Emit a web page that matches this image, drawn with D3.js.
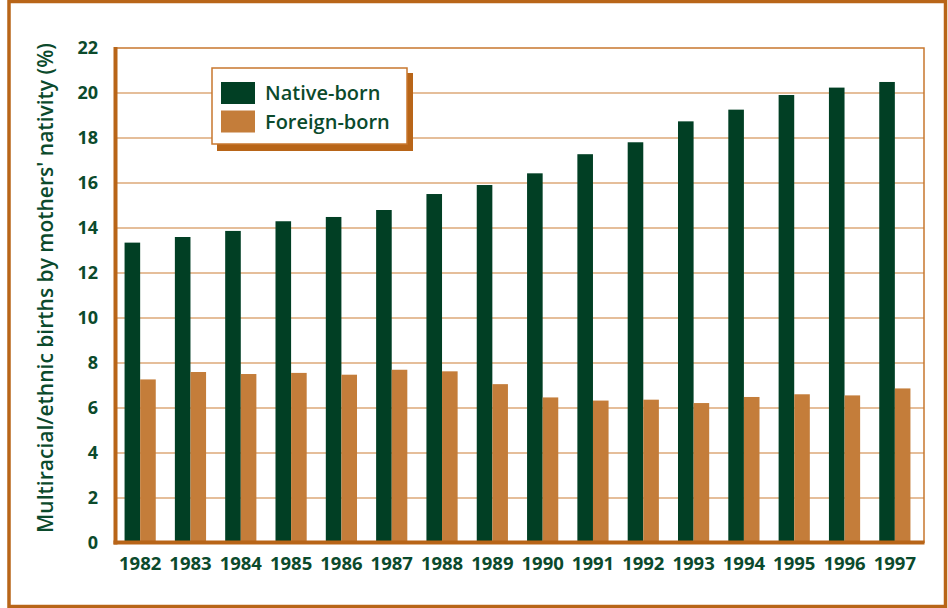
<!DOCTYPE html>
<meta charset="utf-8">
<script src="https://d3js.org/d3.v7.min.js"></script>
<style>
  body { margin: 0; background: #fff; }
  text { font-family: "Open Sans", sans-serif; font-weight: 600; fill: #0b4a2c; }
</style>
<div id="chart"></div>
<script>

// data
var years = ["1982","1983","1984","1985","1986","1987","1988","1989",
             "1990","1991","1992","1993","1994","1995","1996","1997"];
var nativeBorn  = [13.35, 13.6, 13.87, 14.3, 14.49, 14.8, 15.51, 15.91,
                   16.43, 17.28, 17.81, 18.74, 19.26, 19.91, 20.24, 20.49];
var foreignBorn = [7.27, 7.6, 7.51, 7.56, 7.48, 7.7, 7.63, 7.06,
                   6.47, 6.33, 6.37, 6.22, 6.49, 6.61, 6.56, 6.87];
var seriesNames = ["Native-born", "Foreign-born"];
var yTicks = [0, 2, 4, 6, 8, 10, 12, 14, 16, 18, 20, 22];

var colors = {"Native-born": "#013f24", "Foreign-born": "#c47d3a"};
var frameColor = "#b86518";
var gridColor = "#dca878";

var width = 948, height = 608;

var svg = d3.select("#chart")
  .append("svg")
    .attr("width", width)
    .attr("height", height);

// outer frame
svg.append("rect")
  .attr("x", 9)
  .attr("y", 1.5)
  .attr("width", 936.5)
  .attr("height", 605)
  .attr("fill", "none")
  .attr("stroke", frameColor)
  .attr("stroke-width", 3.5);

var plotLeft = 116, plotRight = 924, plotTop = 48, plotBottom = 543;

var x = d3.scaleBand()
  .domain(years)
  .range([115, 920])
  .paddingInner(0.38)
  .paddingOuter(0.19);

var x1 = d3.scaleBand()
  .domain(seriesNames)
  .range([0, x.bandwidth()]);

var y = d3.scaleLinear()
  .domain([0, 22])
  .range([plotBottom, plotTop]);

// gridlines
svg.append("g")
  .selectAll("line")
  .data(yTicks.filter(function(d) { return d > 0 && d < 22; }))
  .enter()
  .append("line")
    .attr("x1", plotLeft)
    .attr("x2", plotRight)
    .attr("y1", function(d) { return y(d); })
    .attr("y2", function(d) { return y(d); })
    .attr("stroke", gridColor)
    .attr("stroke-width", 1.6);

// top and right frame of plot
svg.append("path")
  .attr("d", "M" + plotLeft + "," + y(22) + "H" + plotRight + "V" + plotBottom)
  .attr("fill", "none")
  .attr("stroke", "#c8772e")
  .attr("stroke-width", 1.5);

// bars
var rows = years.map(function(yr, i) {
  return {year: yr, values: [
    {key: "Native-born", value: nativeBorn[i]},
    {key: "Foreign-born", value: foreignBorn[i]}
  ]};
});

svg.append("g")
  .selectAll("g")
  .data(rows)
  .enter()
  .append("g")
    .attr("transform", function(d) { return "translate(" + x(d.year) + ",0)"; })
  .selectAll("rect")
  .data(function(d) { return d.values; })
  .enter()
  .append("rect")
    .attr("x", function(d) { return x1(d.key); })
    .attr("y", function(d) { return y(d.value); })
    .attr("width", x1.bandwidth())
    .attr("height", function(d) { return y(0) - y(d.value); })
    .attr("fill", function(d) { return colors[d.key]; });

// axes lines (thick)
svg.append("line")
  .attr("x1", plotLeft - 0.5).attr("x2", plotLeft - 0.5)
  .attr("y1", plotTop - 1).attr("y2", plotBottom + 1.5)
  .attr("stroke", frameColor)
  .attr("stroke-width", 4);
svg.append("line")
  .attr("x1", plotLeft - 2.5).attr("x2", plotRight + 0.5)
  .attr("y1", plotBottom - 0.5).attr("y2", plotBottom - 0.5)
  .attr("stroke", frameColor)
  .attr("stroke-width", 4);

// Y axis labels
var yAxis = svg.append("g")
  .attr("transform", "translate(" + plotLeft + ",0)")
  .call(d3.axisLeft(y).tickValues(yTicks).tickSize(0).tickPadding(18));
yAxis.select(".domain").remove();
yAxis.selectAll("text")
  .style("font-size", "18px")
  .style("font-family", "Open Sans, sans-serif")
  .style("font-weight", "700")
  .attr("fill", "#0b4a2c");

// X axis labels
var xAxis = svg.append("g")
  .attr("transform", "translate(0," + plotBottom + ")")
  .call(d3.axisBottom(x).tickSize(0).tickPadding(14));
xAxis.select(".domain").remove();
xAxis.selectAll("text")
  .style("font-size", "18.5px")
  .style("font-family", "Open Sans, sans-serif")
  .style("font-weight", "700")
  .attr("fill", "#0b4a2c");

// Y axis title
svg.append("text")
  .attr("transform", "translate(53," + 288 + ") rotate(-90)")
  .attr("text-anchor", "middle")
  .style("font-size", "21px")
  .text("Multiracial/ethnic births by mothers' nativity (%)");

// legend
var lg = svg.append("g");
lg.append("rect")
  .attr("x", 217).attr("y", 73)
  .attr("width", 196).attr("height", 78)
  .attr("fill", frameColor);
lg.append("rect")
  .attr("x", 212).attr("y", 68)
  .attr("width", 195).attr("height", 76)
  .attr("fill", "#fff")
  .attr("stroke", "#c8772e")
  .attr("stroke-width", 1.5);

var item = lg.selectAll(".item")
  .data(seriesNames)
  .enter()
  .append("g")
    .attr("class", "item")
    .attr("transform", function(d, i) { return "translate(221," + (82 + i * 28.5) + ")"; });
item.append("rect")
  .attr("width", 34)
  .attr("height", 22)
  .attr("fill", function(d) { return colors[d]; });
item.append("text")
  .attr("x", 44)
  .attr("y", 18)
  .style("font-size", "20px")
  .style("font-weight", "600")
  .text(function(d) { return d; });

</script>
